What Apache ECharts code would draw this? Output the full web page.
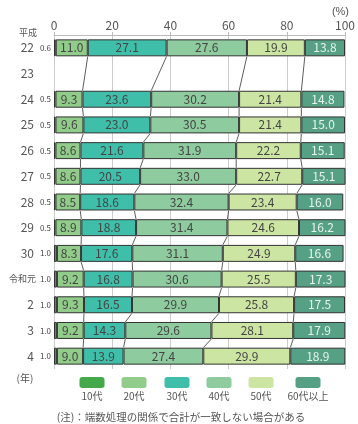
<!DOCTYPE html>
<html><head><meta charset="utf-8">
<script src="https://cdn.jsdelivr.net/npm/echarts@6/dist/echarts.min.js"></script>
<style>html,body{margin:0;padding:0;background:#fff}#c{width:358px;height:424px}</style>
</head><body><div id="c"></div>
<script>
var categories = ['22','23','24','25','26','27','28','29','30','令和元','2','3','4'];
var seriesNames = ['10代','20代','30代','40代','50代','60代以上'];
var s10 = [0.6, null, 0.5, 0.5, 0.5, 0.5, 0.5, 0.5, 1.0, 1.0, 1.0, 1.0, 1.0];
var s20 = [11.0, null, 9.3, 9.6, 8.6, 8.6, 8.5, 8.9, 8.3, 9.2, 9.3, 9.2, 9.0];
var s30 = [27.1, null, 23.6, 23.0, 21.6, 20.5, 18.6, 18.8, 17.6, 16.8, 16.5, 14.3, 13.9];
var s40 = [27.6, null, 30.2, 30.5, 31.9, 33.0, 32.4, 31.4, 31.1, 30.6, 29.9, 29.6, 27.4];
var s50 = [19.9, null, 21.4, 21.4, 22.2, 22.7, 23.4, 24.6, 24.9, 25.5, 25.8, 28.1, 29.9];
var s60 = [13.8, null, 14.8, 15.0, 15.1, 15.1, 16.0, 16.2, 16.6, 17.3, 17.5, 17.9, 18.9];
var xTicks = [0, 20, 40, 60, 80, 100];

var colors = ['#45a84a','#92cc8a','#3fbfaa','#8ecb9e','#cde5a3','#56a086'];
var all = [s10, s20, s30, s40, s50, s60];

var connData = [];
var rows = [];
for (var i = 0; i < categories.length; i++) if (s10[i] != null) rows.push(i);
for (var r = 0; r < rows.length - 1; r++) {
  var a = rows[r], b = rows[r + 1];
  var ca = 0, cb = 0;
  for (var k = 0; k < 5; k++) {
    ca += all[k][a]; cb += all[k][b];
    if (k >= 1) connData.push([ca, a, cb, b]);
  }
}

var series = seriesNames.map(function (n, k) {
  return {
    name: n, type: 'bar', stack: 't', barWidth: '66%',
    data: all[k],
    itemStyle: { color: colors[k], borderColor: '#333', borderWidth: 1 },
    label: k === 0 ? {
      show: true, position: 'left', distance: 3, fontSize: 8, color: '#444',
      formatter: function (p) { return p.value.toFixed(1); }
    } : {
      show: true, position: 'inside', fontSize: 12, color: k === 5 ? '#e6f4ec' : '#444',
      formatter: function (p) { return p.value.toFixed(1); }
    },
    emphasis: { disabled: true }
  };
});
series.push({
  type: 'custom', silent: true, z: 1,
  data: connData,
  encode: { x: [0, 2], y: [1, 3] },
  renderItem: function (params, api) {
    var p1 = api.coord([api.value(0), api.value(1)]);
    var p2 = api.coord([api.value(2), api.value(3)]);
    var h = api.size([0, 1])[1] * 0.33;
    return { type: 'line', shape: { x1: p1[0], y1: p1[1] + h, x2: p2[0], y2: p2[1] - h },
      style: { stroke: '#333', lineWidth: 0.8 } };
  }
});

var lx = [92, 134, 177, 219, 261, 308];
var legends = seriesNames.map(function (n, k) {
  return { data: [n], left: lx[k] - 12.5, top: 377, padding: 0, itemWidth: 25, itemHeight: 11,
    formatter: function () { return ''; }, textStyle: { fontSize: 1 }, selectedMode: false,
    itemStyle: { borderWidth: 0 } };
});
var graphics = seriesNames.map(function (n, k) {
  return { type: 'text', x: lx[k], y: 396, style: { text: n, fontSize: 10, fill: '#555', align: 'center', verticalAlign: 'middle', fontFamily: 'Noto Sans CJK JP' } };
});
graphics.push({ type: 'text', x: 349, y: 12, style: { text: '(%)', fontSize: 11, fill: '#555', align: 'right', verticalAlign: 'middle' } });
graphics.push({ type: 'text', x: 28, y: 33, style: { text: '平成', fontSize: 9, fill: '#555', align: 'center', verticalAlign: 'middle', fontFamily: 'Noto Sans CJK JP' } });
graphics.push({ type: 'text', x: 25, y: 378, style: { text: '(年)', fontSize: 10, fill: '#555', align: 'center', verticalAlign: 'middle', fontFamily: 'Noto Sans CJK JP' } });
graphics.push({ type: 'text', x: 181, y: 417, style: { text: '(注)：端数処理の関係で合計が一致しない場合がある', fontSize: 10.5, fill: '#555', align: 'center', verticalAlign: 'middle', fontFamily: 'Noto Sans CJK JP' } });

var chart = echarts.init(document.getElementById('c'));
chart.setOption({
  animation: false,
  color: colors,
  textStyle: { fontFamily: 'Noto Sans CJK JP' },
  grid: { left: 54, right: 10, top: 35, bottom: 55 },
  xAxis: {
    type: 'value', position: 'top', min: 0, max: 100, interval: 20,
    axisLine: { show: true, lineStyle: { color: '#bbb' } },
    axisTick: { show: true, length: 3, lineStyle: { color: '#bbb' } },
    axisLabel: { fontSize: 12, color: '#555', margin: 4,
      formatter: function (v) { return xTicks.indexOf(v) >= 0 ? String(v) : ''; } },
    splitLine: { show: true, lineStyle: { color: '#ccc' } }
  },
  yAxis: {
    type: 'category', data: categories, inverse: true,
    axisLine: { show: false }, axisTick: { show: false },
    axisLabel: { fontSize: 12, color: '#555', margin: 20,
      formatter: function (v) { return v === '令和元' ? '{s|' + v + '}' : v; },
      rich: { s: { fontSize: 9, color: '#555', padding: [0, -2, 0, 0] } } }
  },
  legend: legends,
  graphic: graphics,
  series: series
});
</script></body></html>
